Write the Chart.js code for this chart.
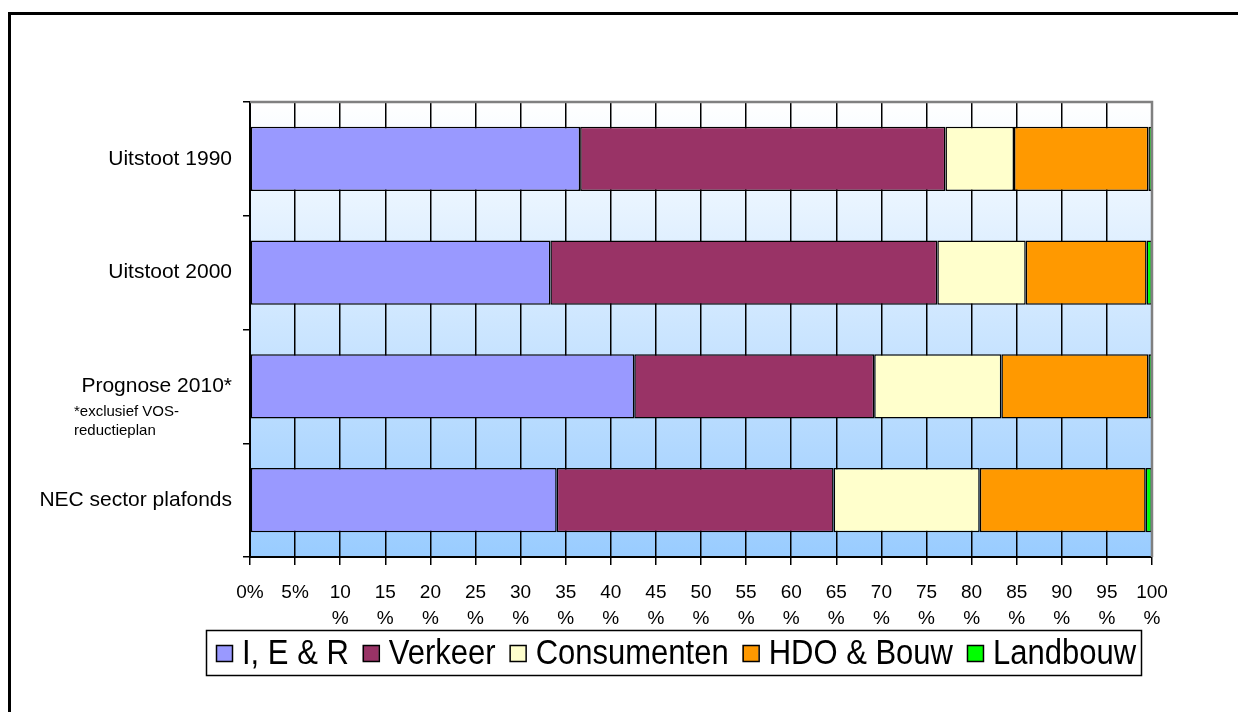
<!DOCTYPE html>
<html>
<head>
<meta charset="utf-8">
<script src="https://cdn.jsdelivr.net/npm/chart.js@4"></script>
<style>
body { margin: 0; background: #fff; }
#frame { position: absolute; left: 8px; top: 12px; width: 1300px; height: 800px; border-left: 3px solid #000; border-top: 3px solid #000; }
#c { position: absolute; left: 0; top: 0; }
</style>
</head>
<body>
<div id="frame"></div>
<canvas id="c" width="1238" height="712"></canvas>
<script>
// categories (top to bottom)
const categories = ['Uitstoot 1990', 'Uitstoot 2000', 'Prognose 2010*', 'NEC sector plafonds'];
const footnote = ['*exclusief VOS-', 'reductieplan'];

// share per sector, in %
const ieR         = [36.6, 33.3, 42.6, 34.0];
const verkeer     = [40.5, 42.9, 26.6, 30.7];
const consumenten = [7.6, 9.8, 14.1, 16.2];
const hdoBouw     = [14.9, 13.4, 16.3, 18.4];
const landbouw    = [0.4, 0.6, 0.4, 0.7];

const xTickLabels = [
  '0%', '5%', ['10', '%'], ['15', '%'], ['20', '%'], ['25', '%'], ['30', '%'],
  ['35', '%'], ['40', '%'], ['45', '%'], ['50', '%'], ['55', '%'], ['60', '%'],
  ['65', '%'], ['70', '%'], ['75', '%'], ['80', '%'], ['85', '%'], ['90', '%'],
  ['95', '%'], ['100', '%']
];

const FONT = '"Liberation Sans", Arial, sans-serif';

function ds(label, data, color) {
  return {
    label: label,
    data: data,
    backgroundColor: color,
    borderColor: '#000',
    borderWidth: 1.5,
    borderSkipped: false,
    barPercentage: 0.565,
    categoryPercentage: 1.0
  };
}

// background gradient, plot border, footnote and boxed legend
const extras = {
  id: 'extras',
  beforeDraw(chart) {
    const a = chart.chartArea, ctx = chart.ctx;
    const g = ctx.createLinearGradient(0, a.top, 0, a.bottom);
    g.addColorStop(0, '#ffffff');
    g.addColorStop(1, '#99ccff');
    ctx.save();
    ctx.fillStyle = g;
    ctx.fillRect(a.left, a.top, a.right - a.left, a.bottom - a.top);
    ctx.restore();
  },
  afterDraw(chart) {
    const a = chart.chartArea, ctx = chart.ctx;
    ctx.save();
    // gray top/right border of plot area
    ctx.strokeStyle = '#808080';
    ctx.lineWidth = 2.5;
    ctx.beginPath();
    ctx.moveTo(a.left, a.top);
    ctx.lineTo(a.right, a.top);
    ctx.lineTo(a.right, a.bottom);
    ctx.stroke();

    // footnote under "Prognose 2010*"
    const yp = chart.scales.y.getPixelForValue(2);
    ctx.fillStyle = '#000';
    ctx.font = '15px ' + FONT;
    ctx.textAlign = 'left';
    ctx.textBaseline = 'alphabetic';
    ctx.fillText(footnote[0], 74, yp + 30);
    ctx.fillText(footnote[1], 74, yp + 49);

    // legend
    ctx.lineWidth = 1.5;
    ctx.strokeStyle = '#000';
    ctx.strokeRect(206.5, 630.5, 935, 45);
    ctx.font = '31px ' + FONT;
    let x = 216;
    chart.data.datasets.forEach(d => {
      ctx.fillStyle = d.backgroundColor;
      ctx.fillRect(x, 645, 16, 16);
      ctx.strokeRect(x + 0.5, 645.5, 16, 16);
      x += 26;
      ctx.fillStyle = '#000';
      ctx.save();
      ctx.translate(x, 664);
      ctx.scale(1, 1.12);
      ctx.fillText(d.label, 0, 0);
      ctx.restore();
      x += ctx.measureText(d.label).width + 14;
    });
    ctx.restore();
  }
};

new Chart(document.getElementById('c'), {
  type: 'bar',
  data: {
    labels: categories,
    datasets: [
      ds('I, E & R', ieR, '#9999ff'),
      ds('Verkeer', verkeer, '#993366'),
      ds('Consumenten', consumenten, '#ffffcc'),
      ds('HDO & Bouw', hdoBouw, '#ff9900'),
      ds('Landbouw', landbouw, '#00ff00')
    ]
  },
  options: {
    indexAxis: 'y',
    responsive: false,
    animation: false,
    layout: { padding: { left: 0, top: 102, right: 86, bottom: 0 } },
    plugins: { legend: { display: false }, tooltip: { enabled: false } },
    scales: {
      x: {
        type: 'linear',
        stacked: true,
        min: 0,
        max: 100,
        ticks: {
          stepSize: 5,
          autoSkip: false,
          maxRotation: 0,
          color: '#000',
          padding: 15,
          font: { family: FONT, size: 19, lineHeight: 1.35 },
          callback: (v, i) => xTickLabels[i]
        },
        grid: { color: '#000', lineWidth: 1.5, tickLength: 8, drawOnChartArea: true },
        border: { color: '#000', width: 2 },
        afterFit: s => { s.height = 155; }
      },
      y: {
        stacked: true,
        ticks: { color: '#000', padding: 11, font: { family: FONT, size: 21 } },
        grid: { offset: true, drawOnChartArea: false, color: '#000', lineWidth: 1.5, tickLength: 7 },
        border: { color: '#000', width: 2 },
        afterFit: s => { s.width = 250; }
      }
    }
  },
  plugins: [extras]
});
</script>
</body>
</html>
